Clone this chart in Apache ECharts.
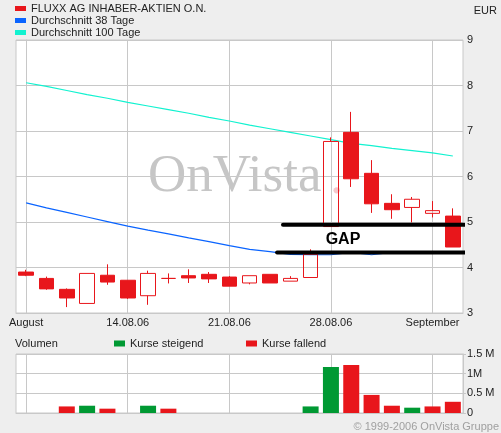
<!DOCTYPE html>
<html><head><meta charset="utf-8">
<script src="https://cdn.jsdelivr.net/npm/echarts@6/dist/echarts.min.js"></script>
<style>html,body{margin:0;padding:0;background:#eeeeee}#c{width:501px;height:433px}</style>
</head><body><div id="c"></div>
<script>
// ---- data ----
const categories = ['07.08.06','08.08.06','09.08.06','10.08.06','11.08.06',
  '14.08.06','15.08.06','16.08.06','17.08.06','18.08.06',
  '21.08.06','22.08.06','23.08.06','24.08.06','25.08.06',
  '28.08.06','29.08.06','30.08.06','31.08.06','01.09.06',
  '04.09.06','05.09.06'];
const tickLabels = {'07.08.06':'August','14.08.06':'14.08.06','21.08.06':'21.08.06','28.08.06':'28.08.06','04.09.06':'September'};
const gridDates = ['07.08.06','14.08.06','21.08.06','28.08.06','04.09.06'];
// [open, close, low, high]
const ohlc = [
  [3.90,3.83,3.81,3.95],[3.76,3.53,3.51,3.80],[3.52,3.33,3.13,3.54],[3.21,3.87,3.21,3.87],[3.83,3.68,3.62,4.07],
  [3.72,3.33,3.31,3.72],[3.38,3.87,3.18,3.93],[3.76,3.76,3.65,3.87],[3.82,3.77,3.66,3.96],[3.85,3.75,3.66,3.90],
  [3.79,3.59,3.59,3.81],[3.66,3.82,3.63,3.82],[3.85,3.66,3.66,3.85],[3.70,3.76,3.70,3.81],[3.78,4.29,3.78,4.40],
  [4.90,6.77,4.90,6.86],[6.97,5.95,5.77,7.42],[6.07,5.40,5.20,6.36],[5.41,5.27,5.07,5.61],[5.32,5.50,4.99,5.55],
  [5.19,5.25,5.10,5.46],[5.13,4.45,4.45,5.30]
];
const ma38 = [5.42,5.31,5.21,5.11,5.01,4.91,4.82,4.74,4.65,4.57,4.48,4.40,4.35,4.29,4.28,4.28,4.33,4.28,4.33,4.33,4.33,4.33];
const ma100 = [8.06,7.98,7.89,7.80,7.72,7.63,7.55,7.47,7.39,7.30,7.22,7.13,7.05,6.97,6.89,6.81,6.73,6.68,6.62,6.57,6.52,6.45];
const volUp = [null,null,null,0.185,null,null,0.185,null,null,null,null,null,null,null,0.167,1.17,null,null,null,0.135,null,null];
const volDown = [null,null,0.167,null,0.11,null,null,0.11,null,null,null,null,null,null,null,null,1.22,0.46,0.185,null,0.167,0.285];
const volTickLabels = ['0','0.5 M','1M','1.5 M'];
const gapLevels = [4.94, 4.33];
const gapSpans = [[12.64, 21.61],[12.35, 21.83]];

// ---- styles ----
const RED='#e8161b', GREEN='#009933', BLUE='#0a64ff', CYAN='#12f2d0', GRIDC='#c8c8c8', TXT='#222';
const FONT='"Liberation Sans", Arial, sans-serif';
const vLines = () => ({silent:true, symbol:'none', z:2, label:{show:false}, emphasis:{disabled:true},
  lineStyle:{color:GRIDC, width:1, type:'solid'}, data: gridDates.map(d=>({xAxis:d}))});

const chart = echarts.init(document.getElementById('c'), null, {renderer:'canvas'});
const option = {
  animation:false,
  backgroundColor:'#eeeeee',
  textStyle:{fontFamily:FONT},
  grid:[
    {left:16,right:38,top:40,height:273,show:true,backgroundColor:'#fff',borderColor:GRIDC,borderWidth:1,z:0},
    {left:16,right:38,top:354,height:59,show:true,backgroundColor:'#fff',borderColor:GRIDC,borderWidth:1,z:0}
  ],
  legend:[
    {orient:'vertical',left:15,top:3,padding:0,itemGap:1,itemWidth:11,itemHeight:5,icon:'rect',
     textStyle:{fontSize:11,color:TXT,fontFamily:FONT},selectedMode:false,itemStyle:{borderWidth:0},
     data:[{name:'FLUXX AG INHABER-AKTIEN O.N.',itemStyle:{color:RED,borderWidth:0}},
           {name:'Durchschnitt 38 Tage',itemStyle:{color:BLUE}},
           {name:'Durchschnitt 100 Tage',itemStyle:{color:CYAN}}]},
    {left:114,top:338,padding:0,itemWidth:11,itemHeight:6,icon:'rect',selectedMode:false,
     textStyle:{fontSize:11,color:TXT,fontFamily:FONT},data:['Kurse steigend']},
    {left:246,top:338,padding:0,itemWidth:11,itemHeight:6,icon:'rect',selectedMode:false,
     textStyle:{fontSize:11,color:TXT,fontFamily:FONT},data:['Kurse fallend']}
  ],
  xAxis:[
    {type:'category',gridIndex:0,data:categories,boundaryGap:true,z:2,
     axisLine:{show:true,lineStyle:{color:GRIDC}},axisTick:{show:false},splitLine:{show:false},
     axisLabel:{interval:0,margin:4,fontSize:11,color:TXT,formatter:v=>tickLabels[v]||''}},
    {type:'value',gridIndex:0,min:-0.5,max:21.5,show:false},
    {type:'category',gridIndex:1,data:categories,boundaryGap:true,z:2,
     axisLine:{show:true,lineStyle:{color:GRIDC}},axisTick:{show:false},splitLine:{show:false},axisLabel:{show:false}}
  ],
  yAxis:[
    {type:'value',gridIndex:0,position:'right',min:3,max:9,interval:1,z:2,
     axisLine:{show:true,lineStyle:{color:GRIDC}},axisTick:{show:true,length:3,lineStyle:{color:GRIDC}},
     splitLine:{show:true,lineStyle:{color:GRIDC}},axisLabel:{margin:4,fontSize:11,color:TXT}},
    {type:'value',gridIndex:1,position:'right',min:0,max:1.5,interval:0.5,z:2,
     axisLine:{show:true,lineStyle:{color:GRIDC}},axisTick:{show:true,length:3,lineStyle:{color:GRIDC}},
     splitLine:{show:true,lineStyle:{color:GRIDC}},
     axisLabel:{margin:4,fontSize:11,color:TXT,formatter:v=>volTickLabels[Math.round(v/0.5)]}}
  ],
  series:[
    {type:'candlestick',name:'FLUXX AG INHABER-AKTIEN O.N.',xAxisIndex:0,yAxisIndex:0,data:ohlc,barWidth:15,z:4,
     itemStyle:{color:'transparent',color0:RED,borderColor:RED,borderColor0:RED,borderColorDoji:RED,borderWidth:1},
     markLine:vLines()},
    {type:'line',name:'Durchschnitt 38 Tage',xAxisIndex:0,yAxisIndex:0,data:ma38,symbol:'none',z:3,
     itemStyle:{color:BLUE},lineStyle:{color:BLUE,width:1.2}},
    {type:'line',name:'Durchschnitt 100 Tage',xAxisIndex:0,yAxisIndex:0,data:ma100,symbol:'none',z:3,
     itemStyle:{color:CYAN},lineStyle:{color:CYAN,width:1.2}},
    ...gapLevels.map((lv,k)=>({type:'line',name:'gap'+k,xAxisIndex:1,yAxisIndex:0,clip:false,symbol:'none',z:6,silent:true,
     data:[[gapSpans[k][0],lv],[gapSpans[k][1],lv]],lineStyle:{color:'#000',width:4,cap:'round'}})),
    {type:'bar',name:'Kurse steigend',xAxisIndex:2,yAxisIndex:1,data:volUp,barWidth:16,barGap:'-100%',z:3,
     itemStyle:{color:GREEN},markLine:vLines()},
    {type:'bar',name:'Kurse fallend',xAxisIndex:2,yAxisIndex:1,data:volDown,barWidth:16,barGap:'-100%',z:3,
     itemStyle:{color:RED}}
  ],
  graphic:[
    {type:'text',z:1,silent:true,style:{text:'OnVista',x:148,y:177,font:'53px "Liberation Serif", serif',fill:'#c6c6c6',verticalAlign:'middle',textVerticalAlign:'middle'}},
    {type:'text',z:1,silent:true,style:{text:'.',x:330,y:179,font:'53px "Liberation Serif", serif',fill:'#f4c8cc',verticalAlign:'middle',textVerticalAlign:'middle'}},
    {type:'text',z:10,silent:true,style:{text:'GAP',x:343,y:240,font:'bold 16px "Liberation Sans", Arial',fill:'#000',align:'center',textAlign:'center',verticalAlign:'middle',textVerticalAlign:'middle'}},
    {type:'text',z:10,silent:true,style:{text:'Volumen',x:15,y:344,font:'11px "Liberation Sans", Arial',fill:TXT,verticalAlign:'middle',textVerticalAlign:'middle'}},
    {type:'text',z:10,silent:true,style:{text:'EUR',x:497,y:11,font:'11px "Liberation Sans", Arial',fill:TXT,align:'right',textAlign:'right',verticalAlign:'middle',textVerticalAlign:'middle'}},
    {type:'text',z:10,silent:true,style:{text:'© 1999-2006 OnVista Gruppe',x:499,y:427,font:'11px "Liberation Sans", Arial',fill:'#a0a0a0',align:'right',textAlign:'right',verticalAlign:'middle',textVerticalAlign:'middle'}}
  ]
};
chart.setOption(option);
</script></body></html>
